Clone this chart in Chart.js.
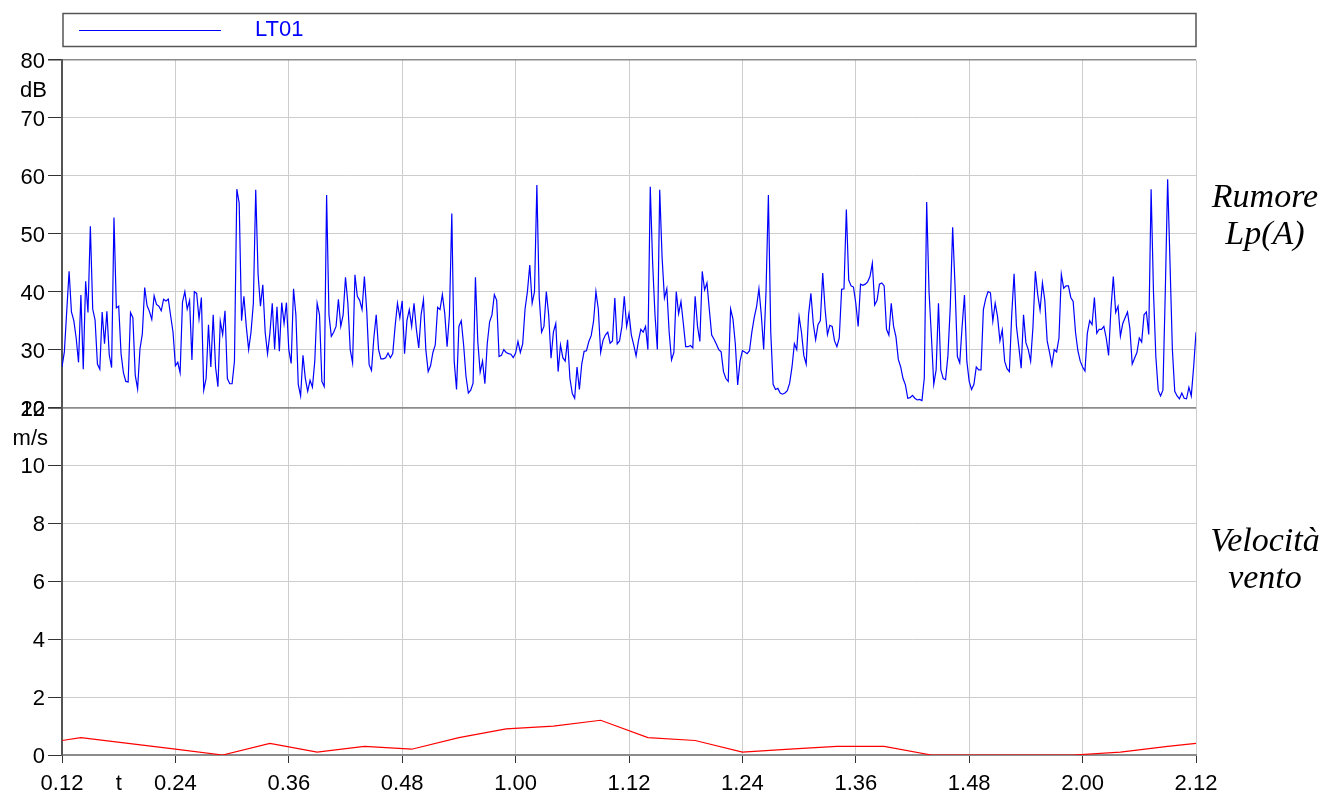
<!DOCTYPE html>
<html>
<head>
<meta charset="utf-8">
<script src="https://cdn.jsdelivr.net/npm/chart.js@4/dist/chart.umd.min.js"></script>
<style>
  html, body { margin: 0; padding: 0; background: #fff; }
  canvas { display: block; }
</style>
</head>
<body>
<canvas id="grafico" width="1325" height="796"></canvas>
<script>
// time axis in seconds from 0.00 (0.12 -> 12 s, 2.12 -> 132 s)
const timeTicks = [12, 24, 36, 48, 60, 72, 84, 96, 108, 120, 132];
const timeLabels = ['0.12', '0.24', '0.36', '0.48', '1.00', '1.12', '1.24', '1.36', '1.48', '2.00', '2.12'];

// LT01 noise level, dB(A), one value every 0.25 s from 0.12
const noiseStart = 12;
const noiseStep = 0.25;
const noiseLevels = [
  27, 29.6, 36.6, 43.5, 36.5, 35, 32, 27.8, 39.4, 26.6, 41.8, 36.4, 51.3, 37, 35.1, 27.5, 26.6, 36.5, 31, 36.6,
  29.1, 26.9, 52.8, 37.2, 37.5, 29.3, 26, 24.5, 24.4, 36.4, 35.5, 25.6, 23.2, 30.1, 32.7, 40.7, 37.6, 36.6, 35.2, 39.3,
  37.8, 37.5, 36.7, 38.7, 38.4, 38.7, 35.8, 33, 27.2, 27.8, 26, 38.2, 40, 37,
  38.5, 28.2, 40, 39.7, 35.3, 39, 23, 25, 34.3, 27, 36, 27, 23.6, 34.9, 32.6, 36.7, 25, 24.1, 24.1, 28,
  57.7, 55.3, 35, 39.2, 34, 30, 33, 38, 57.6, 43, 37.5, 41.2, 33, 29.3, 32.8, 38, 30, 37.4, 29.7, 38.1,
  34.5, 38.1, 30, 27.6, 40.5, 36, 24, 22, 29, 25, 22.8, 24.7, 23.5,
  28, 38, 36, 24.5, 23.6, 56.7, 36, 32.3, 33, 34, 38.7, 34, 36, 42.5, 38, 30, 27.7, 42.9, 39.2, 38.5,
  36.9, 42.6, 36.6, 27.4, 26.4, 32, 36, 30, 28.4, 28.4, 28.6, 29.4, 28.6, 29.3, 34, 38, 35.5, 38.4, 29.3, 35,
  36.9, 34, 38, 33.5, 30.3, 36, 38.6, 30, 26.2, 27.2, 29.5, 30.8, 37.3, 36.9,
  39.5, 36.3, 30.5, 36, 53.5, 28, 23.1, 34, 35, 30.8, 25.4, 22.5, 23, 24.2, 42.5, 31.4, 26.1, 28, 24.1, 31,
  34.8, 36, 39.5, 38.5, 28.8, 29, 30, 29.5, 29.3, 29.2, 28.6, 29.4, 31.4, 29.5, 31, 37, 40, 44.6, 38, 40,
  58.4, 39, 33, 34, 40, 36, 28.5, 33, 34.5, 26.2, 30.8, 28.6, 28,
  31.7, 25, 22.4, 21.6, 27, 23.1, 27.5, 29.7, 29.8, 31.4, 32.4, 34.9, 40, 37, 29.5, 31.6, 32.5, 33, 31.1, 31.5,
  38.9, 31, 31.5, 34, 39.2, 34, 36.2, 32.5, 30.8, 28.9, 31.5, 33.5, 33, 34, 30, 58.1, 45, 36, 30, 57.6,
  46, 38.9, 40.5, 33, 28.2, 29.5, 40, 36.2, 38.3, 34.5, 30.5, 30.5, 30.7,
  30.3, 39.2, 34, 31.4, 43.5, 40.3, 41.5, 36.9, 32.5, 31.8, 30.9, 30, 29.6, 26.2, 25, 24.5, 37, 35.3, 31, 23.9,
  28, 29.8, 29.6, 29.3, 29.8, 33, 35.5, 37.4, 40.5, 36, 30, 40, 56.7, 33, 24, 23.1, 23.3, 22.5, 22.3, 22.5,
  22.9, 24.2, 27, 31, 30, 35.7, 33, 29, 27.5, 36, 39.7, 34.5, 31.7, 34.3,
  35, 43.2, 37, 32.6, 34.2, 34, 31.5, 30.5, 32, 40.4, 40.5, 54.2, 42, 41, 40.8, 38, 34, 41.3, 41.1, 41.3,
  41.7, 42.6, 44.9, 37.7, 38.5, 41.3, 41.5, 41, 33.5, 32.5, 38, 34, 32.2, 28.3, 27, 25, 23.9, 21.6, 21.7, 22.1,
  21.6, 21.3, 21.4, 21.2, 25.1, 55.5, 40, 32.3, 24, 26.5, 38, 26.5, 25,
  24.8, 29, 37.5, 51.1, 41, 28.8, 27.7, 34, 39.4, 28, 24.5, 23.1, 24, 27, 26.5, 26.5, 36.9, 38.8, 40, 39.8,
  34.9, 38, 35.7, 31.5, 33.4, 28, 26.7, 26.2, 36, 43.1, 34, 30.5, 26.8, 36, 31.2, 30, 28, 34, 43.5, 39.5,
  36.8, 41.5, 38.5, 31.5, 29.5, 27.3, 30, 29.6, 32, 43, 40.6, 41, 41,
  39, 38.3, 33, 29.8, 28, 27, 26.3, 32.8, 35, 34.3, 39, 32.8, 33.5, 33.5, 34, 32, 29, 37, 42.6, 36.4,
  37.5, 32.3, 34.5, 35.5, 36.5, 33.7, 27.5, 28.5, 29.5, 32, 31.3, 36, 36.5, 32.6, 57.7, 40, 28.8, 23, 22, 23,
  40, 59.4, 45, 30, 22.8, 22, 21.5, 22.5, 21.6, 21.5, 23.5, 22, 27, 33
];

// wind speed, m/s
const windTimes = [12, 14, 19, 24, 29, 34, 39, 44, 49, 54, 59, 64, 69, 74, 79, 84, 89, 94, 99, 104, 109, 114, 119, 124, 129, 132];
const windSpeeds = [0.5, 0.6, 0.4, 0.2, 0.0, 0.4, 0.1, 0.3, 0.2, 0.6, 0.9, 1.0, 1.2, 0.6, 0.5, 0.1, 0.2, 0.3, 0.3, 0.0, 0.0, 0.0, 0.0, 0.1, 0.3, 0.4];

const seriesName = 'LT01';

Chart.defaults.font.family = '"Liberation Sans", Arial, sans-serif';
Chart.defaults.font.size = 22;
Chart.defaults.color = '#000';

const noisePoints = noiseLevels.map((v, i) => ({ x: noiseStart + i * noiseStep, y: v }));
const windPoints = windSpeeds.map((v, i) => ({ x: windTimes[i], y: v }));

function gridColor(edges) {
    return ctx => edges.includes(ctx.tick.value) ? '#8c8c8c' : '#cdcdcd';
}
function gridWidth(edges) {
    return ctx => edges.includes(ctx.tick.value) ? 1.5 : 1;
}

// frame, legend, units and side titles
const decorazioni = {
    id: 'decorazioni',
    afterDraw(chart) {
        const { ctx, chartArea: a, scales } = chart;
        ctx.save();

        // legend box
        ctx.strokeStyle = '#555';
        ctx.lineWidth = 1.5;
        ctx.strokeRect(a.left + 1, 13.5, a.right - a.left - 1, 33);
        ctx.strokeStyle = '#0000ff';
        ctx.lineWidth = 1;
        ctx.beginPath();
        ctx.moveTo(a.left + 17, 30.5);
        ctx.lineTo(a.left + 159, 30.5);
        ctx.stroke();
        ctx.fillStyle = '#0000ff';
        ctx.font = '22px "Liberation Sans", Arial, sans-serif';
        ctx.textAlign = 'left';
        ctx.textBaseline = 'middle';
        ctx.fillText(seriesName, a.left + 193, 30);

        // units
        ctx.fillStyle = '#000';
        ctx.textAlign = 'right';
        const yDb = scales.yDb, yWind = scales.yWind;
        ctx.fillText('dB', a.left - 15, (yDb.getPixelForValue(80) + yDb.getPixelForValue(70)) / 2 + 2);
        ctx.fillText('m/s', a.left - 14, (yWind.getPixelForValue(12) + yWind.getPixelForValue(10)) / 2 + 2);

        // time unit on the x axis
        ctx.textAlign = 'center';
        ctx.fillText('t', scales.x.getPixelForValue(18), a.bottom + 29);

        // side titles
        ctx.font = 'italic 34px "Liberation Serif", "Times New Roman", serif';
        ctx.textBaseline = 'alphabetic';
        const cx = a.right + 69;
        ctx.fillText('Rumore', cx, yDb.top + 147);
        ctx.fillText('Lp(A)', cx, yDb.top + 184);
        ctx.fillText('Velocità', cx, yWind.top + 143);
        ctx.fillText('vento', cx, yWind.top + 180);
        ctx.restore();
    }
};

new Chart(document.getElementById('grafico'), {
    type: 'line',
    data: {
        datasets: [
            {
                label: seriesName,
                data: noisePoints,
                yAxisID: 'yDb',
                borderColor: '#0000ff',
                borderWidth: 1.2,
                pointRadius: 0,
                tension: 0
            },
            {
                label: 'Velocità vento',
                data: windPoints,
                yAxisID: 'yWind',
                borderColor: '#ff0000',
                borderWidth: 1.2,
                pointRadius: 0,
                tension: 0
            }
        ]
    },
    options: {
        responsive: false,
        animation: false,
        layout: { padding: { top: 60, right: 129, left: 0, bottom: 0 } },
        plugins: {
            legend: { display: false },
            tooltip: { enabled: false }
        },
        scales: {
            x: {
                type: 'linear',
                min: 12,
                max: 132,
                afterFit: scale => { scale.height = 41; },
                ticks: {
                    stepSize: 12,
                    autoSkip: false,
                    maxRotation: 0,
                    padding: 8,
                    callback: v => {
                        const i = timeTicks.indexOf(v);
                        return i === -1 ? '' : timeLabels[i];
                    }
                },
                grid: { color: '#cdcdcd', tickColor: '#333', tickLength: 8 },
                border: { color: '#8c8c8c', width: 2 }
            },
            yDb: {
                position: 'left',
                stack: 'pannelli',
                stackWeight: 1,
                weight: 2,
                min: 20,
                max: 80,
                afterFit: scale => { scale.width = 62; },
                ticks: { stepSize: 10, padding: 3, labelOffset: 2 },
                grid: { color: gridColor([80, 20]), lineWidth: gridWidth([80, 20]), tickColor: '#333', tickLength: 14 },
                border: { color: '#555', width: 2 }
            },
            yWind: {
                position: 'left',
                stack: 'pannelli',
                stackWeight: 1,
                weight: 1,
                min: 0,
                max: 12,
                afterFit: scale => { scale.width = 62; },
                ticks: { stepSize: 2, padding: 3, labelOffset: 2 },
                grid: { color: gridColor([12]), lineWidth: gridWidth([12]), tickColor: '#333', tickLength: 14 },
                border: { color: '#555', width: 2 }
            }
        }
    },
    plugins: [decorazioni]
});
</script>
</body>
</html>
